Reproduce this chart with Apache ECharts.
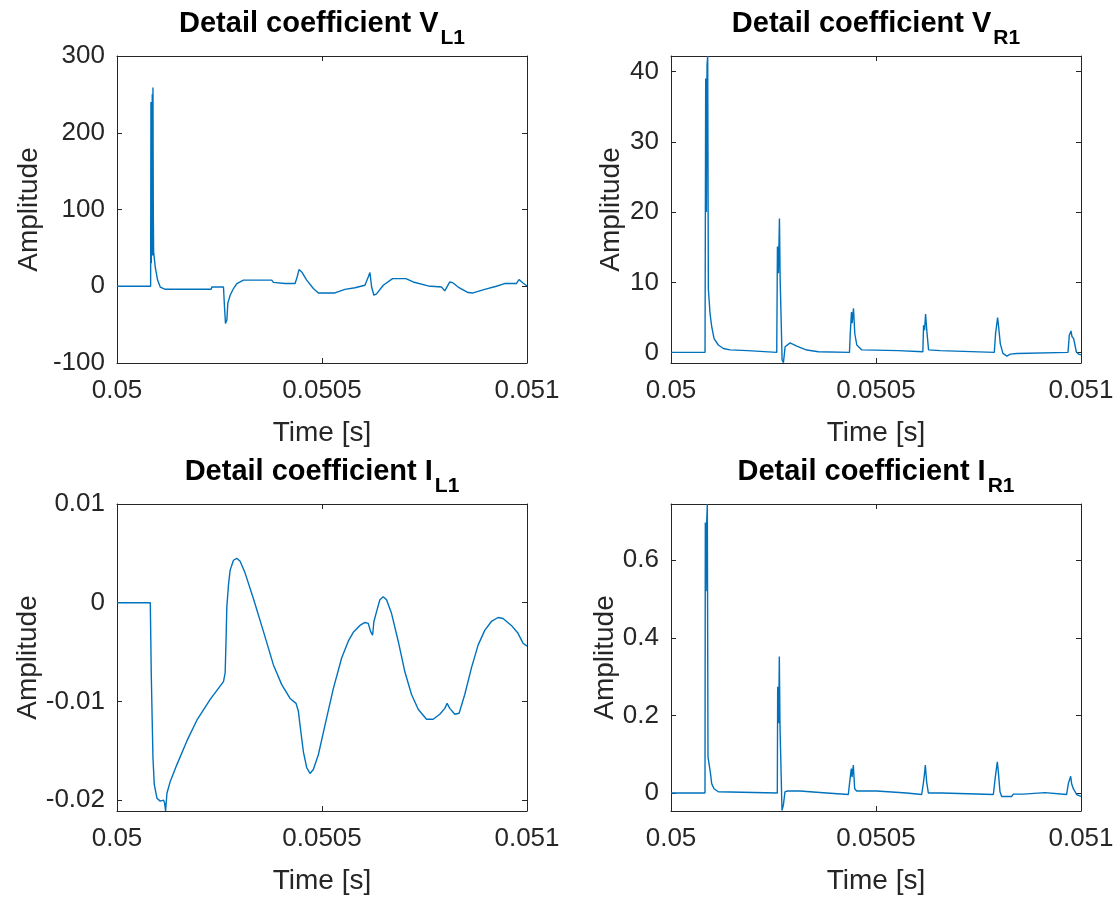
<!DOCTYPE html>
<html>
<head>
<meta charset="utf-8">
<script src="https://cdn.jsdelivr.net/npm/echarts@6/dist/echarts.min.js"></script>
<style>
html,body{margin:0;padding:0;background:#fff;}
#chart{width:1118px;height:898px;}
</style>
</head>
<body>
<div id="chart"></div>
<script>
// ---- shared x-axis ticks ----
const xTicks = [0.05, 0.0505, 0.051];

// ---- Detail coefficient V_L1 ----
const tVL1 = [0.05,0.050082,0.0500828,0.0500836,0.0500844,0.0500852,0.050086,0.0500869,0.0500877,0.0500885,
0.0500893,0.0500933,0.050099,0.0501055,0.0501177,0.0502297,0.0502313,0.0502597,0.0502622,0.0502646,
0.0502679,0.0502703,0.050276,0.0502841,0.0502922,0.0503084,0.0503774,0.0503815,0.0504099,0.0504343,
0.0504383,0.050444,0.0504505,0.0504627,0.0504789,0.0504911,0.0505317,0.050556,0.0505804,0.0506047,
0.0506128,0.0506169,0.050621,0.0506266,0.0506331,0.0506494,0.0506721,0.0507046,0.0507224,0.0507589,
0.0507914,0.0507995,0.0508117,0.0508182,0.050832,0.0508563,0.0508685,0.0508969,0.0509253,0.0509456,
0.050974,0.0509805,0.0509903,0.051];
const vVL1 = [0,0,240,30,230,60,250,40,259,100,
45,25,8,-1,-4,-4,-1,-1,-27,-48.6,
-44,-22,-11.7,-3,3.5,8,8,5,3.5,3.5,
10,21.7,18.6,8,-3,-8.7,-8.7,-4,-2,1.3,
12,17.8,-1,-11.7,-10,1.3,10,10,5.6,0.4,
-1,-6,5.6,4.8,-1,-8.2,-8.7,-4,0,3.5,
3.5,8.7,4.3,0.4];
const yTicksVL1 = [-100, 0, 100, 200, 300];

// ---- Detail coefficient V_R1 ----
const tVR1 = [0.05,0.050083,0.0500846,0.0500863,0.0500879,0.0500895,0.0500911,0.0500936,0.0500952,0.0500993,
0.050105,0.0501155,0.0501278,0.050144,0.0501872,0.0501904,0.0502579,0.0502596,0.050262,0.0502645,
0.0502661,0.0502685,0.050271,0.0502742,0.0502783,0.0502905,0.0503068,0.0503312,0.0503597,0.0503637,
0.0504353,0.050437,0.0504402,0.0504418,0.0504451,0.0504483,0.0504532,0.0504654,0.0505549,0.050559,
0.0506143,0.050616,0.0506184,0.0506209,0.0506241,0.0506282,0.0506567,0.0506607,0.0507885,0.0507917,
0.0507966,0.0507991,0.0508031,0.0508096,0.0508194,0.0508275,0.0508438,0.0508454,0.0509683,0.0509715,
0.0509756,0.050978,0.0509821,0.0509886,0.0509944,0.051];
const vVR1 = [0.05,0.05,39,20,41,42.2,9.1,9.1,5.6,3.7,
2.0,1.1,0.6,0.4,0.3,0.05,0.05,15.1,11.3,19.1,
10.8,10.7,-1.04,-1.42,0.85,1.4,0.95,0.38,0.14,0.05,
0.05,2.5,5.8,4.2,6.3,2.7,1.1,0.4,0.3,0.05,
0.14,3.9,3.2,5.5,3.0,0.4,0.3,0.05,0.05,2.75,
5.0,3.7,1.3,-0.1,-0.47,-0.2,-0.1,0.05,0.05,2.5,
3.1,2.3,2.0,0.14,-0.2,-0.3];
const yTicksVR1 = [0, 10, 20, 30, 40];

// ---- Detail coefficient I_L1 ----
const tIL1 = [0.05,0.0500812,0.0500828,0.0500836,0.0500869,0.0500877,0.0500909,0.0500974,0.0501055,0.0501136,
0.0501161,0.0501185,0.0501218,0.0501299,0.0501461,0.0501705,0.0501948,0.0502273,0.0502597,0.0502638,
0.0502662,0.0502679,0.0502719,0.050276,0.0502841,0.0502922,0.0503003,0.0503125,0.0503328,0.0503571,
0.0503815,0.0504018,0.0504221,0.0504367,0.0504424,0.0504464,0.0504546,0.0504627,0.0504708,0.0504789,
0.0504911,0.0505073,0.0505276,0.0505479,0.0505641,0.0505763,0.0505925,0.0506047,0.0506128,0.0506185,
0.0506234,0.0506266,0.0506331,0.0506412,0.0506494,0.0506575,0.0506697,0.0506859,0.0507021,0.0507184,
0.0507346,0.0507549,0.0507711,0.0507873,0.0507995,0.0508052,0.0508117,0.0508239,0.0508344,0.0508482,
0.0508645,0.0508807,0.0508969,0.0509132,0.0509294,0.0509416,0.0509619,0.0509781,0.0509903,0.051];
const vIL1 = [0,0,0,-0.0073,-0.0073,-0.0157,-0.0184,-0.0198,-0.0201,-0.0200,
-0.0203,-0.0211,-0.0193,-0.0181,-0.0164,-0.0140,-0.0119,-0.0098,-0.0080,-0.0071,
-0.0034,-0.0004,0.0018,0.0033,0.0043,0.0045,0.0042,0.0030,0.0004,-0.0029,
-0.0063,-0.0083,-0.0097,-0.0102,-0.0110,-0.0124,-0.0151,-0.0167,-0.0173,-0.0169,
-0.0154,-0.0124,-0.0087,-0.0056,-0.0039,-0.0030,-0.0023,-0.0020,-0.0021,-0.0029,
-0.0033,-0.0019,-0.0009,0.0003,0.0006,0.0003,-0.0011,-0.0039,-0.0070,-0.0093,
-0.0108,-0.0118,-0.0118,-0.0113,-0.0107,-0.0102,-0.0107,-0.0113,-0.0112,-0.0093,
-0.0066,-0.0043,-0.0028,-0.0019,-0.0015,-0.0016,-0.0023,-0.0031,-0.0041,-0.0044];
const yTicksIL1 = [-0.02, -0.01, 0, 0.01];

// ---- Detail coefficient I_R1 ----
const tIR1 = [0.05,0.0500829,0.0500837,0.0500854,0.050087,0.0500886,0.0500902,0.0500935,0.0500959,0.0500992,
0.0501049,0.0501154,0.0501195,0.0502593,0.0502602,0.0502626,0.0502642,0.0502659,0.0502683,0.0502707,
0.050274,0.050278,0.0502837,0.0503146,0.0503187,0.0503797,0.0503837,0.0504325,0.0504358,0.0504398,
0.0504415,0.0504447,0.050448,0.0504528,0.0505016,0.0505057,0.0505748,0.0505789,0.0506114,0.0506154,
0.0506179,0.0506203,0.0506236,0.0506276,0.0506602,0.0506626,0.0507862,0.050791,0.0507959,0.0507984,
0.0508024,0.0508065,0.0508309,0.050835,0.0508593,0.0508634,0.0509122,0.0509162,0.0509649,0.0509691,
0.0509748,0.0509772,0.0509813,0.0509894,0.051];
const vIR1 = [0,0,0.697,0.52,0.697,0.745,0.093,0.091,0.054,0.024,
0.011,0.003,0,0,0.274,0.18,0.352,0.171,0.169,-0.045,
-0.032,0.003,0.005,0.005,0,0,-0.004,-0.004,0.028,0.063,
0.041,0.072,0.011,0.005,0.005,0,0,-0.004,-0.004,0.024,
0.046,0.072,0.028,0,0,-0.004,-0.004,0.041,0.08,0.054,
0.003,-0.009,-0.009,-0.003,-0.003,0.001,0.001,-0.004,-0.004,0.024,
0.043,0.024,0.011,-0.004,-0.009];
const yTicksIR1 = [0, 0.2, 0.4, 0.6];

// ---- panel configuration ----
const panels = [
  {main: 'Detail coefficient V', sub: 'L1', t: tVL1, v: vVL1, yTicks: yTicksVL1, ymin: -100, ymax: 300, left: 117, top: 56, nameGap: 74},
  {main: 'Detail coefficient V', sub: 'R1', t: tVR1, v: vVR1, yTicks: yTicksVR1, ymin: -1.46, ymax: 42.2, left: 671, top: 56, nameGap: 46},
  {main: 'Detail coefficient I', sub: 'L1', t: tIL1, v: vIL1, yTicks: yTicksIL1, ymin: -0.0211, ymax: 0.01, left: 117, top: 504, nameGap: 74},
  {main: 'Detail coefficient I', sub: 'R1', t: tIR1, v: vIR1, yTicks: yTicksIR1, ymin: -0.0465, ymax: 0.745, left: 671, top: 504, nameGap: 46}
];

const W = 410, H = 307;
const FONT = 'Liberation Sans, Arial, Helvetica, sans-serif';
const AX = '#262626';
const fmt = v => String(+v.toFixed(6));

const option = {
  animation: false,
  backgroundColor: '#ffffff',
  title: [], grid: [], xAxis: [], yAxis: [], series: []
};

panels.forEach((p, i) => {
  option.title.push({
    text: '{m|' + p.main + '}{s|' + p.sub + '}',
    left: p.left + W / 2,
    top: p.top - 47,
    textAlign: 'center',
    padding: 0,
    textStyle: {
      rich: {
        m: {fontSize: 29, fontWeight: 'bold', fontFamily: FONT, color: '#000', lineHeight: 32, verticalAlign: 'top'},
        s: {fontSize: 21, fontWeight: 'bold', fontFamily: FONT, color: '#000', lineHeight: 23, verticalAlign: 'top', padding: [19, 0, 0, 2]}
      }
    }
  });
  option.grid.push({left: p.left, top: p.top, width: W, height: H, show: false});

  const lineStyle = {color: AX, width: 1};
  const tick = {show: true, inside: true, length: 5, lineStyle: {color: AX, width: 1}};
  option.xAxis.push({
    gridIndex: i, type: 'value', position: 'bottom', min: 0.05, max: 0.051,
    axisLine: {show: true, onZero: false, lineStyle},
    axisTick: Object.assign({customValues: xTicks}, tick),
    axisLabel: {customValues: xTicks, formatter: fmt, fontSize: 26, fontFamily: FONT, color: AX, margin: 15, showMinLabel: true, showMaxLabel: true},
    splitLine: {show: false},
    name: 'Time [s]', nameLocation: 'middle', nameGap: 56,
    nameTextStyle: {fontSize: 28, fontFamily: FONT, color: AX}
  });
  option.xAxis.push({
    gridIndex: i, type: 'value', position: 'top', min: 0.05, max: 0.051,
    axisLine: {show: true, onZero: false, lineStyle},
    axisTick: Object.assign({customValues: xTicks}, tick),
    axisLabel: {show: false}, splitLine: {show: false}
  });
  option.yAxis.push({
    gridIndex: i, type: 'value', position: 'left', min: p.ymin, max: p.ymax,
    axisLine: {show: true, onZero: false, lineStyle},
    axisTick: Object.assign({customValues: p.yTicks}, tick),
    axisLabel: {customValues: p.yTicks, formatter: fmt, fontSize: 26, fontFamily: FONT, color: AX, margin: 12, showMinLabel: true, showMaxLabel: true},
    splitLine: {show: false},
    name: 'Amplitude', nameLocation: 'middle', nameRotate: 90, nameGap: p.nameGap,
    nameTextStyle: {fontSize: 28, fontFamily: FONT, color: AX}
  });
  option.yAxis.push({
    gridIndex: i, type: 'value', position: 'right', min: p.ymin, max: p.ymax,
    axisLine: {show: true, onZero: false, lineStyle},
    axisTick: Object.assign({customValues: p.yTicks}, tick),
    axisLabel: {show: false}, splitLine: {show: false}
  });
  option.series.push({
    type: 'line', xAxisIndex: 2 * i, yAxisIndex: 2 * i,
    data: p.t.map((t, k) => [t, p.v[k]]),
    showSymbol: false, symbol: 'none', clip: true,
    lineStyle: {color: '#0072BD', width: 1.4},
    silent: true
  });
});

const chart = echarts.init(document.getElementById('chart'), null, {renderer: 'canvas'});
chart.setOption(option);
</script>
</body>
</html>
